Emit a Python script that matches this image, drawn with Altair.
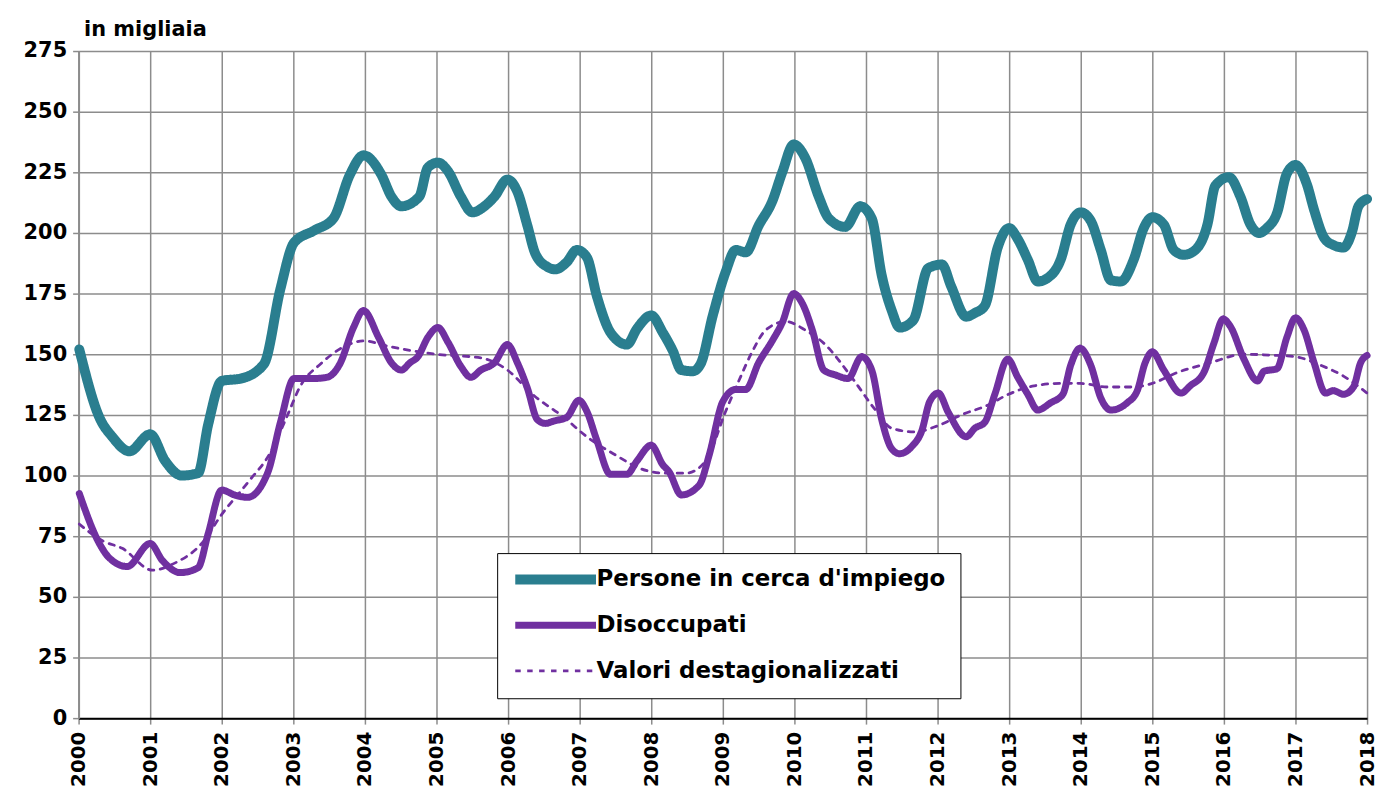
import altair as alt
import pandas as pd

# Persone in cerca d'impiego (in migliaia)
pers_x = [2000.01, 2000.29, 2000.47, 2000.71, 2001.0, 2001.21, 2001.44, 2001.67, 2001.81, 2002.0,
          2002.27, 2002.59, 2002.82, 2003.01, 2003.29, 2003.56, 2003.79, 2003.98,
          2004.23, 2004.37, 2004.51, 2004.76, 2004.88, 2005.02, 2005.16, 2005.34, 2005.5, 2005.67,
          2005.81, 2005.99, 2006.13, 2006.27, 2006.38, 2006.55, 2006.66, 2006.82, 2006.96, 2007.1,
          2007.24, 2007.43, 2007.66, 2007.8,
          2008.0, 2008.16, 2008.3, 2008.42, 2008.58, 2008.69, 2008.86, 2009.04, 2009.18, 2009.32,
          2009.5, 2009.69, 2009.83, 2009.99, 2010.15, 2010.34, 2010.48, 2010.71, 2010.92, 2011.08,
          2011.22, 2011.36, 2011.47, 2011.66,
          2011.87, 2012.06, 2012.19, 2012.4, 2012.52, 2012.66, 2012.84, 2013.0, 2013.12, 2013.26,
          2013.4, 2013.54, 2013.72, 2013.86, 2014.0, 2014.14, 2014.28, 2014.42, 2014.56, 2014.74,
          2014.88,
          2015.0, 2015.16, 2015.3, 2015.44, 2015.6, 2015.77, 2015.88, 2016.07, 2016.23, 2016.37,
          2016.49, 2016.6, 2016.74, 2016.88, 2017.0, 2017.16, 2017.26, 2017.4, 2017.53, 2017.67,
          2017.79, 2017.88, 2018.0]
pers_y = [152, 124, 116, 110, 117, 106, 100, 101, 121, 139,
          140, 146, 177, 196, 201, 206, 224, 232,
          224, 215, 211, 215, 227, 229, 225.5, 215, 208.5, 211,
          215, 222, 217, 203, 191.5, 186, 185, 188, 193, 190,
          174, 159, 154, 160.5,
          166, 159, 151.5, 143.5, 143, 146, 166, 184, 193, 192,
          203, 213, 225, 236.5, 231, 215, 206, 202.5, 211, 206,
          182.5, 168, 161, 164,
          185.5, 187, 178, 165.5, 167, 170, 194, 202, 197.5, 189,
          180, 181.5, 189, 203.5, 208.5, 205, 193, 180.5, 180, 189,
          202,
          206.5, 203.5, 193, 191, 193, 203.5, 219.5, 223, 215, 203.5,
          200, 202, 208, 224.5, 228, 220, 209.5, 198, 195, 194,
          200.5, 211, 214]

# Disoccupati (in migliaia)
dis_x = [2000.01, 2000.29, 2000.43, 2000.68, 2001.0, 2001.17, 2001.42, 2001.67, 2001.81, 2002.0,
         2002.18, 2002.36, 2002.64, 2002.82, 2003.01, 2003.29, 2003.47, 2003.65, 2003.84, 2003.98,
         2004.19, 2004.37, 2004.51, 2004.63, 2004.74, 2004.88, 2005.02, 2005.16, 2005.34, 2005.48,
         2005.62, 2005.81, 2005.99, 2006.13, 2006.27, 2006.41, 2006.52, 2006.64, 2006.82, 2006.99,
         2007.1, 2007.24, 2007.43, 2007.66, 2007.8,
         2008.0, 2008.16, 2008.25, 2008.42, 2008.67, 2008.81, 2009.0, 2009.18, 2009.32, 2009.5,
         2009.69, 2009.83, 2009.99, 2010.11, 2010.25, 2010.41, 2010.57, 2010.75, 2010.94, 2011.08,
         2011.22, 2011.36, 2011.47,
         2011.64, 2011.78, 2011.89, 2012.01, 2012.15, 2012.4, 2012.52, 2012.66, 2012.8, 2012.98,
         2013.12, 2013.26, 2013.4, 2013.58, 2013.75, 2013.86, 2013.99, 2014.14, 2014.28, 2014.42,
         2014.65, 2014.79, 2014.9,
         2015.0, 2015.16, 2015.4, 2015.53, 2015.72, 2015.86, 2015.99, 2016.09, 2016.28, 2016.47,
         2016.56, 2016.74, 2016.88, 2017.0, 2017.12, 2017.26, 2017.42, 2017.53, 2017.67, 2017.81,
         2017.91, 2018.0]
dis_y = [92.6, 72, 66, 62.5, 72, 65, 60, 62, 76, 94,
         92, 91, 101, 122, 140, 140, 140.5, 146, 161, 168,
         157, 146.5, 143.5, 146.5, 149, 157, 161, 155, 145, 140.5,
         143.5, 146.5, 154, 146.5, 136, 123, 121.5, 122.5, 124, 131,
         126.5, 114.5, 100.5, 100.5, 106,
         112.5, 104.5, 101.5, 92, 96, 108.5, 130.5, 135.5, 135.5, 146.5,
         155.5, 163, 175, 171, 160, 143.5, 141.5, 140, 149, 143.5,
         123, 111, 109,
         112, 118.5, 130.5, 134, 126, 116, 119.5, 122, 133.5, 148,
         140.5, 133.5, 127, 130, 133.5, 145.5, 152.5, 145.5, 132, 127,
         130, 135, 146.5,
         151, 143.5, 134, 137, 142.5, 154.5, 164.5, 161.5, 148, 139,
         143, 144, 157, 165, 160, 146.5, 134, 135, 133.5, 136.5,
         146.5, 149.5]

# Valori destagionalizzati (in migliaia)
sa_x = [2000.01, 2000.34, 2000.61, 2001.03, 2001.35, 2001.72, 2002.0, 2002.36, 2002.69, 2002.92,
        2003.1, 2003.38, 2003.7, 2003.98, 2004.37, 2005.0, 2005.62, 2005.99, 2006.36, 2006.78,
        2007.1, 2007.47, 2007.94, 2008.21, 2008.49, 2008.76, 2009.04, 2009.23, 2009.41, 2009.6,
        2009.88, 2010.15, 2010.43, 2010.8, 2011.12, 2011.36, 2011.68, 2012.0, 2012.33, 2012.7,
        2012.99, 2013.35, 2013.72, 2013.99, 2014.37, 2014.74, 2015.0, 2015.35, 2015.81, 2016.28,
        2016.74, 2017.0, 2017.35, 2017.67, 2018.0]
sa_y = [80, 73, 70, 61, 64, 72, 84, 97, 110, 125,
        137, 146, 153, 155.5, 153, 150, 148.5, 143.5, 133, 124,
        116, 109, 102, 101, 101, 106, 126.5, 139.5, 151, 160,
        163.5, 160, 154, 140.5, 127.5, 119.5, 118, 120.5, 125, 129,
        133.5, 137, 138, 138, 136.5, 136.5, 138, 142.5, 146.5, 150,
        149.5, 149, 145.5, 141, 134]

series_names = ["Persone in cerca d'impiego", "Disoccupati", "Valori destagionalizzati"]
colors = ["#2A7E8F", "#7030A0", "#7030A0"]
widths = [10, 7, 2.8]
dashes = [[1, 0], [1, 0], [5.5, 6.5]]

rows = []
for name, w, xs, ys in zip(series_names, widths, [pers_x, dis_x, sa_x], [pers_y, dis_y, sa_y]):
    for i, (a, b) in enumerate(zip(xs, ys)):
        rows.append({"anno": a, "valore": b, "serie": name, "sw": w, "ord": i})
df = pd.DataFrame(rows)

FONT = "DejaVu Sans"

legend_sw = ("datum.value == 'Disoccupati' ? 7 : "
             "(datum.value == 'Valori destagionalizzati' ? 2.8 : 10)")

chart = alt.Chart(df).mark_line(interpolate="monotone", strokeCap="round", strokeJoin="round").encode(
    x=alt.X("anno:Q",
            scale=alt.Scale(domain=[2000, 2018], nice=False, zero=False),
            axis=alt.Axis(values=list(range(2000, 2019)), format="d", title=None,
                          labelAngle=270, labelAlign="right", labelBaseline="middle",
                          labelFont=FONT, labelFontSize=20, labelFontWeight="bold",
                          labelColor="black", labelPadding=7, tickSize=6,
                          tickColor="#8C8C8C", tickWidth=1.5,
                          domainColor="black", domainWidth=2,
                          grid=True, gridColor="#8C8C8C", gridWidth=1.5,
                          labelOverlap=False, labelFlush=False)),
    y=alt.Y("valore:Q",
            scale=alt.Scale(domain=[0, 275], nice=False),
            axis=alt.Axis(values=list(range(0, 276, 25)), title="in migliaia",
                          titleAngle=0, titleAlign="left", titleBaseline="alphabetic",
                          titleX=5, titleY=-16, titleFont=FONT, titleFontSize=21,
                          titleFontWeight="bold", titleColor="black",
                          labelFont=FONT, labelFontSize=21, labelFontWeight="bold",
                          labelColor="black", labelPadding=6, tickSize=6,
                          tickColor="#8C8C8C", tickWidth=1.5,
                          domainColor="#8C8C8C", domainWidth=2,
                          grid=True, gridColor="#8C8C8C", gridWidth=1.5)),
    color=alt.Color("serie:N", scale=alt.Scale(domain=series_names, range=colors),
                    legend=alt.Legend(title=None, orient="none", legendX=421, legendY=505,
                                      direction="vertical", fillColor="white",
                                      strokeColor="black", padding=15, gridAlign="all",
                                      symbolType="M-0.69,0H6.08", symbolSize=576,
                                      symbolStrokeWidth=alt.ExprRef(legend_sw),
                                      labelFont=FONT, labelFontSize=23,
                                      labelFontWeight="bold", labelColor="black",
                                      labelLimit=600, rowPadding=11, labelOffset=62)),
    strokeWidth=alt.StrokeWidth("sw:Q", scale=None, legend=None),
    strokeDash=alt.StrokeDash("serie:N",
                              scale=alt.Scale(domain=series_names, range=dashes)),
    detail="serie:N",
    order="ord:Q",
).properties(
    width=1296, height=671,
    autosize=alt.AutoSizeParams(type="none"),
    padding={"left": 71, "top": 41, "right": 11, "bottom": 70},
).configure_view(
    fill="#F2F2F2", stroke="black", strokeWidth=2
).configure(background="white")

chart.save("out.html", embed_options={"renderer": "svg", "actions": False})
